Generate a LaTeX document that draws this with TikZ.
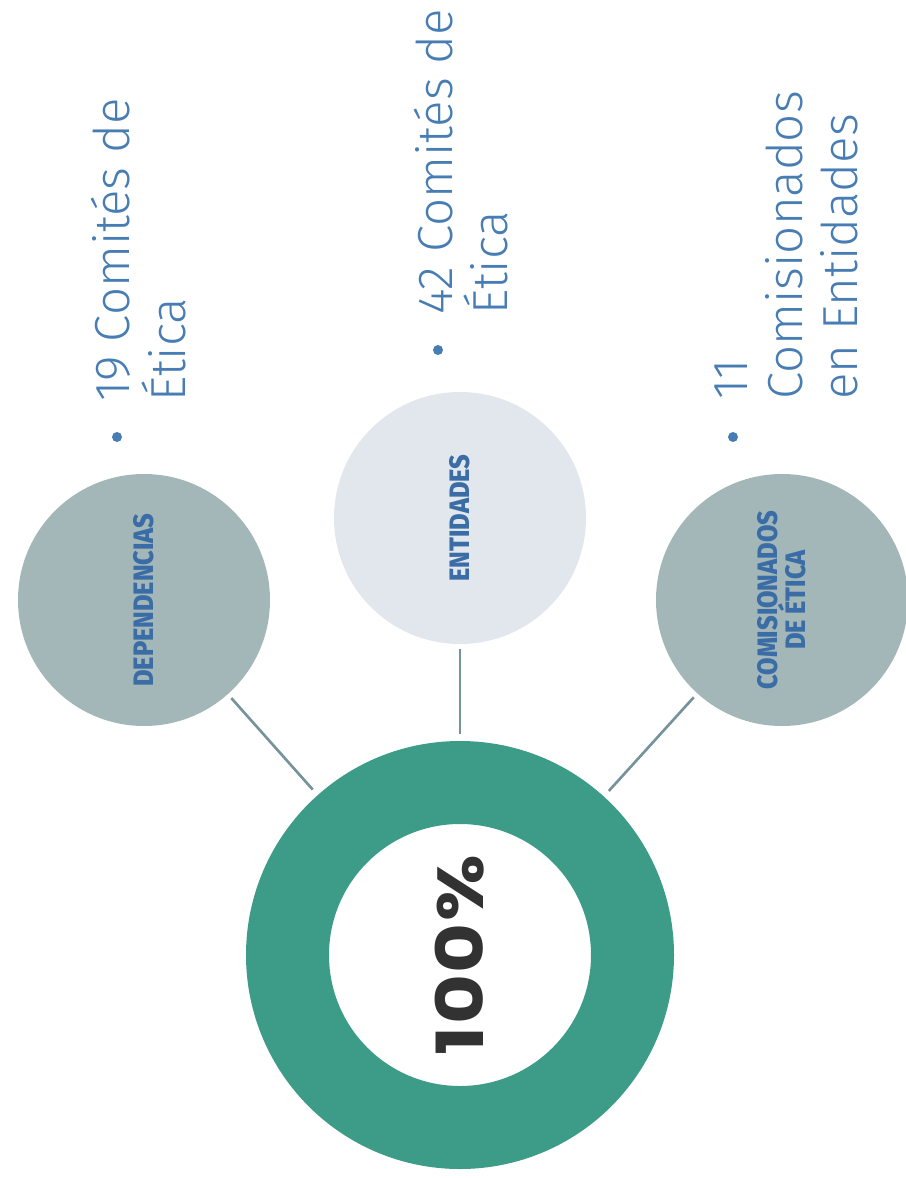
\documentclass[tikz,border=0pt]{standalone}
\usepackage{fontspec}
\setmainfont{Fira Sans}
\newfontfamily\listfont{Fira Sans Light}
\newfontfamily\bubblefont{Fira Sans ExtraBold}
\newfontfamily\pctfont{Poppins}[LetterSpace=2]
\definecolor{ringteal}{RGB}{60,156,136}
\definecolor{circgray}{RGB}{163,182,184}
\definecolor{circlight}{RGB}{226,231,237}
\definecolor{labelblue}{RGB}{58,108,165}
\definecolor{listblue}{RGB}{72,125,180}
\definecolor{spokegray}{RGB}{118,146,154}
\definecolor{pctgray}{RGB}{50,50,50}
\tikzset{
	bubble/.style={circle, minimum size=5.04cm, inner sep=0, rotate=90, align=center, text=labelblue, font=\bubblefont\fontsize{16}{16}\selectfont},
	listitem/.style={rotate=90, anchor=base west, inner sep=0, align=left, text=listblue, font=\listfont\fontsize{28}{31.3}\selectfont},
	bulletdot/.style={circle, fill=listblue, minimum size=0.2cm, inner sep=0},
	spoke/.style={line width=1.5pt, color=spokegray, shorten <=0.1cm, shorten >=0.15cm},
}
\newcommand{\narrow}[1]{\scalebox{0.9}[1]{#1}}

\begin{document}
\begin{tikzpicture}
		%%%%% START %%%%%
		
		\useasboundingbox (0, 0) rectangle (18.1, -23.56);
		
		\node[circle, draw=ringteal, line width=1.66cm, outer sep=0.83cm, minimum size=6.9cm, rotate=90, text=pctgray, font=\pctfont\fontsize{37}{42}\selectfont\bfseries] (pct) at (9.2, -19.1) {\scalebox{1.18}[1]{100\%}};
		
		\node[bubble, fill=circgray] (dep) at (2.88, -12.0) {\narrow{DEPENDENCIAS}};
		\node[bubble, fill=circlight] (ent) at (9.2, -10.36) {\narrow{ENTIDADES}};
		\node[bubble, fill=circgray] (com) at (15.64, -12.0) {\narrow{COMISIONADOS}\\\narrow{DE ÉTICA}};
		
		\draw[spoke] (dep) -- (pct);
		\draw[spoke] (ent) -- (pct);
		\draw[spoke] (com) -- (pct);
		
		% the base anchor sits on the last line
		\node[bulletdot] (dep-dot) at (2.34, -8.74) {};
		\node[listitem] (dep-txt) at (3.7, -8.04) {19 Comités de\\Ética};
		
		\node[bulletdot] (ent-dot) at (8.76, -7.0) {};
		\node[listitem] (ent-txt) at (10.14, -6.3) {42 Comités de\\Ética};
		
		\node[bulletdot] (com-dot) at (14.66, -8.74) {};
		\node[listitem] (com-txt) at (17.14, -8.0) {11\\Comisionados\\en Entidades};
		
		%%%%% END %%%%%
	\end{tikzpicture}
\end{document}
